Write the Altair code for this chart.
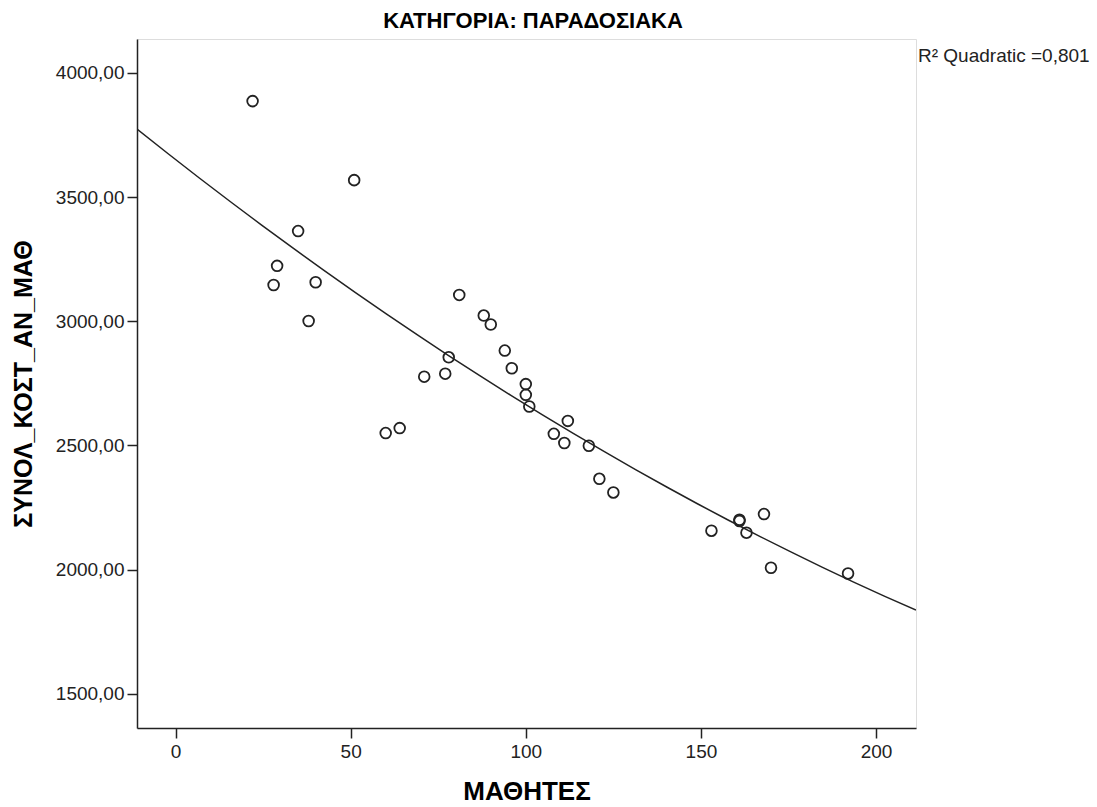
import altair as alt
import pandas as pd

# data
students = [22, 51, 35, 29, 28, 40, 38, 81, 88, 90, 94, 96, 100, 100, 101, 78, 77, 71,
            64, 60, 108, 112, 111, 118, 121, 125, 153, 161, 161, 163, 168, 170, 192]
cost = [3886, 3568, 3363, 3223, 3146, 3157, 3001, 3106, 3023, 2987, 2882, 2811, 2747,
        2704, 2657, 2855, 2789, 2777, 2570, 2550, 2547, 2599, 2510, 2499, 2366, 2311,
        2157, 2201, 2196, 2149, 2224, 2008, 1985]
x_ticks = [0, 50, 100, 150, 200]
y_ticks = [1500, 2000, 2500, 3000, 3500, 4000]
x_domain = [-11, 211.4]
y_domain = [1363, 4136]
r2_label = ["R\u00b2 Quadratic =0,801"]
chart_title = ["ΚΑΤΗΓΟΡΙΑ: ΠΑΡΑΔΟΣΙΑΚΑ"]

df = pd.DataFrame({"x": students, "y": cost})
FONT = "Liberation Sans"

x_enc = alt.X(
    "x:Q",
    scale=alt.Scale(domain=x_domain, nice=False, zero=False),
    axis=alt.Axis(
        values=x_ticks, grid=False, tickSize=10, tickWidth=1.5, tickColor="#222",
        domainColor="#222", domainWidth=1.5, labelFont=FONT, labelFontSize=19,
        labelColor="#222", labelPadding=4, title="ΜΑΘΗΤΕΣ", titleFont=FONT,
        titleFontSize=26, titleFontWeight="bold", titleColor="#000",
        titleY=63, titleBaseline="middle",
    ),
)
y_enc = alt.Y(
    "y:Q",
    scale=alt.Scale(domain=y_domain, nice=False, zero=False),
    axis=alt.Axis(
        values=y_ticks, grid=False, tickSize=10, tickWidth=1.5, tickColor="#222",
        domainColor="#222", domainWidth=1.5, labelFont=FONT, labelFontSize=19,
        labelColor="#222", labelPadding=3,
        labelExpr="replace(format(datum.value, '.2f'), '.', ',')",
        title="ΣΥΝΟΛ_ΚΟΣΤ_ΑΝ_ΜΑΘ", titleFont=FONT, titleFontSize=25,
        titleFontWeight="bold", titleColor="#000", titleAngle=270,
        titleX=-114, titleBaseline="middle", titleAlign="center",
    ),
)

base = alt.Chart(df)

points = base.mark_point(
    shape="circle", filled=False, size=115, strokeWidth=1.8, color="#222", opacity=1
).encode(x=x_enc, y=y_enc)

fit = base.transform_regression(
    "x", "y", method="poly", order=2, extent=x_domain
).mark_line(color="#222", strokeWidth=1.5, clip=True).encode(x="x:Q", y="y:Q")

label = alt.Chart(pd.DataFrame({"t": r2_label})).mark_text(
    align="left", baseline="alphabetic", font=FONT, fontSize=19, color="#222"
).encode(text="t:N", x=alt.value(781), y=alt.value(23))

title = alt.Chart(pd.DataFrame({"t": chart_title})).mark_text(
    align="center", baseline="alphabetic", font=FONT, fontSize=22,
    fontWeight="bold", color="#000"
).encode(text="t:N", x=alt.value(396), y=alt.value(-11))

chart = alt.layer(fit, points, label, title).properties(
    width=779,
    height=689,
    autosize=alt.AutoSizeParams(type="none"),
    padding={"left": 137, "top": 39, "right": 181, "bottom": 79},
).configure_view(fill="#EFEFEF", stroke="#666", strokeWidth=2).configure(background="white")

chart.save("out.html", embed_options={"renderer": "svg", "actions": False})
